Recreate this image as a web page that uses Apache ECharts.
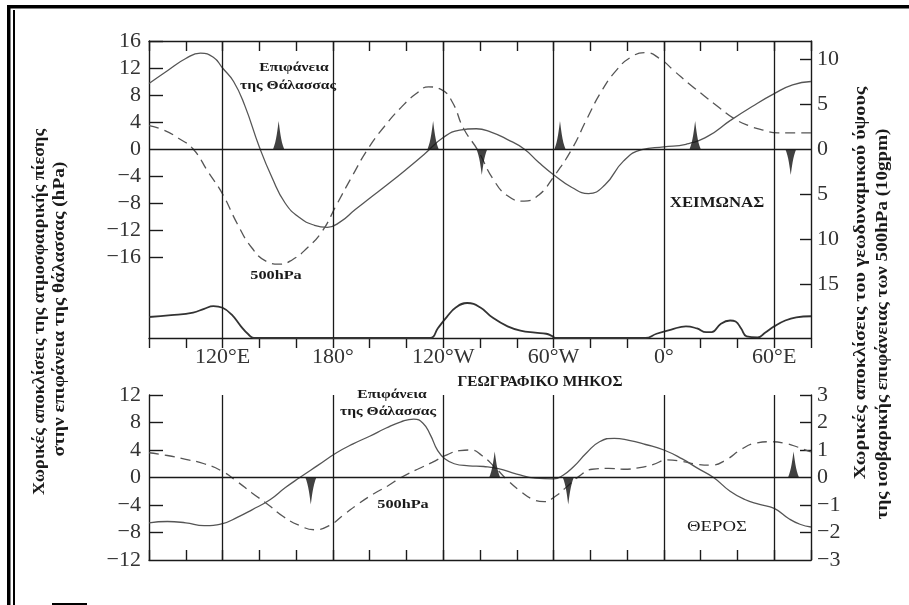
<!DOCTYPE html>
<html>
<head>
<meta charset="utf-8">
<script src="https://cdn.jsdelivr.net/npm/echarts@6/dist/echarts.min.js"></script>
<style>
  html, body { margin: 0; padding: 0; background: #fff; }
  #chart { width: 909px; height: 605px; }
</style>
</head>
<body>
<div id="chart"></div>
<script>
// Longitude runs eastward from 80°E through 180° and 0° back to 80°E (80 … 440).
const lonTickLabels = { 120: '120°E', 180: '180°', 240: '120°W', 300: '60°W', 360: '0°', 420: '60°E' };
const meridians = [120, 180, 240, 300, 360, 420];

// Winter: sea-level pressure departure (hPa)
const surfWinter = [
  [80, 9.7], [90, 11.6], [100, 13.4], [108, 14.2], [115, 13.6], [120, 12.0], [126, 10.0], [132, 6.5],
  [140, 0.3], [147, -4.3], [154, -8.0], [162, -10.2], [170, -11.3], [177, -11.6], [184, -10.8],
  [192, -9.0], [200, -7.3], [210, -5.2], [220, -3.0], [230, -0.7], [240, 1.7], [249, 2.8], [258, 3.0],
  [266, 2.5], [275, 1.4], [284, 0], [292, -2.0], [300, -3.8], [310, -5.7], [319, -6.6], [328, -5.3],
  [338, -1.8], [348, -0.1], [360, 0.3], [372, 0.7], [384, 1.9], [396, 4.2], [408, 6.3], [420, 8.2],
  [430, 9.5], [440, 10.0]
];
// Winter: 500 hPa geopotential height departure (10 gpm)
const geoWinter = [
  [80, 2.6], [88, 2.1], [96, 1.2], [104, 0], [112, -2.5], [120, -5.0], [128, -8.3], [136, -11.0],
  [144, -12.5], [151, -12.8], [158, -12.3], [166, -11.0], [174, -9.2], [182, -6.2], [190, -3.2],
  [199, 0], [208, 2.5], [217, 4.6], [225, 6.1], [232, 6.9], [239, 6.6], [245, 5.2], [251, 2.3],
  [259, -0.2], [267, -3.3], [275, -5.2], [284, -5.8], [292, -5.1], [300, -3.1], [310, 0], [318, 3.3],
  [326, 6.4], [334, 8.7], [342, 10.2], [350, 10.7], [358, 10.0], [366, 8.6], [374, 7.2], [382, 5.9],
  [390, 4.6], [398, 3.4], [406, 2.6], [414, 2.1], [422, 1.8], [430, 1.8], [440, 1.8]
];
// Terrain profile along the latitude circle (km)
const terrain = [
  [80, 1.98], [92, 2.15], [104, 2.4], [110, 2.75], [115, 3.0], [120, 2.85], [125, 2.2], [130, 1.1],
  [134, 0.35], [137, 0], [233, 0], [237, 0.9], [242, 2.0], [247, 2.9], [253, 3.3], [260, 2.9],
  [267, 1.9], [275, 1.1], [282, 0.7], [290, 0.5], [296, 0.4], [299, 0.2], [301, 0],
  [350, 0], [356, 0.4], [364, 0.8], [372, 1.1], [378, 0.9], [383, 0.55], [386, 0.55], [391, 1.35],
  [396, 1.65], [399, 1.55], [402, 0.9], [405, 0.15], [411, 0.05], [415, 0.5], [420, 1.1], [426, 1.65],
  [432, 1.95], [440, 2.05]
];
// Summer: sea-level pressure departure (hPa)
const surfSummer = [
  [80, -6.6], [90, -6.4], [100, -6.6], [110, -7.0], [120, -6.7], [128, -5.8], [136, -4.7], [146, -3.2],
  [154, -1.5], [162, 0], [172, 1.8], [182, 3.6], [191, 4.9], [200, 6.0], [209, 7.2], [217, 8.1],
  [224, 8.5], [229, 7.9], [233, 6.2], [237, 3.9], [241, 2.7], [246, 2.0], [254, 1.7], [262, 1.6],
  [270, 1.3], [280, 0.5], [290, -0.1], [300, -0.2], [305, 0.3], [311, 1.6], [318, 3.6], [325, 5.2],
  [333, 5.7], [341, 5.4], [350, 4.8], [360, 4.0], [370, 2.7], [378, 1.4], [387, 0], [396, -2.0],
  [404, -3.2], [412, -3.9], [420, -4.5], [428, -6.0], [434, -6.8], [440, -7.2]
];
// Summer: 500 hPa geopotential height departure (10 gpm)
const geoSummer = [
  [80, 0.9], [90, 0.8], [100, 0.66], [110, 0.5], [120, 0.22], [128, -0.15], [136, -0.56], [145, -1.0],
  [153, -1.42], [162, -1.75], [170, -1.9], [178, -1.75], [186, -1.35], [194, -0.95], [202, -0.6],
  [210, -0.3], [217, 0], [226, 0.3], [234, 0.55], [242, 0.82], [249, 0.98], [255, 1.0], [261, 0.8],
  [268, 0.38], [275, -0.1], [282, -0.5], [289, -0.8], [295, -0.88], [301, -0.68], [307, -0.35],
  [314, 0.05], [321, 0.3], [330, 0.33], [338, 0.3], [346, 0.35], [354, 0.47], [362, 0.64], [370, 0.58],
  [378, 0.48], [386, 0.45], [394, 0.65], [402, 1.02], [410, 1.25], [418, 1.3], [426, 1.24], [433, 1.1],
  [440, 0.93]
];
// Positions of ridge (up) and trough (down) axes
const winterUp = [150.5, 234.5, 303.5, 377];
const winterDown = [261, 429];
const summerUp = [268, 430.5];
const summerDown = [168, 308];

const SERIF = '"Liberation Serif", "DejaVu Serif", serif';
const INK = '#1a1a1a';
const CURVE = '#555';
const minus = v => (v < 0 ? '\u2212' + Math.abs(v) : String(v));
const spike = 'path://M0,28 C3,20 4,8 5,0 C6,8 7,20 10,28 Z';

const chart = echarts.init(document.getElementById('chart'), null, { renderer: 'canvas' });

function lonAxis(grid, position, opts) {
  return Object.assign({
    type: 'value', gridIndex: grid, position: position, min: 80, max: 440, interval: 20,
    axisLine: { show: true, onZero: false, lineStyle: { color: INK, width: 1.4 } },
    axisTick: { show: true, inside: true, length: 10, lineStyle: { color: INK, width: 1.4 } },
    axisLabel: { show: false },
    splitLine: { show: false }
  }, opts || {});
}

function guideLines() {
  return {
    silent: true, symbol: ['none', 'none'], animation: false,
    label: { show: false },
    lineStyle: { color: INK, width: 1.3, type: 'solid' },
    data: [{ yAxis: 0 }].concat(meridians.map(m => ({ xAxis: m })))
  };
}

function spikes(name, x, yIdx, lons, up, h) {
  return {
    name: name, type: 'scatter', xAxisIndex: x, yAxisIndex: yIdx,
    data: lons.map(l => [l, 0]),
    symbol: spike, symbolKeepAspect: false, symbolSize: [11, h],
    symbolRotate: up ? 0 : 180,
    symbolOffset: [0, up ? -h / 2 : h / 2],
    itemStyle: { color: '#111' }, silent: true, z: 4
  };
}

function label(txt, x, y, size, bold, extra) {
  return Object.assign({
    type: 'text', x: x, y: y, silent: true,
    style: {
      text: txt, font: (bold ? 'bold ' : '') + size + 'px ' + SERIF, fill: INK,
      textAlign: 'center', textVerticalAlign: 'middle'
    }
  }, extra || {});
}

function curve(name, x, y, data, dashed) {
  return {
    name: name, type: 'line', xAxisIndex: x, yAxisIndex: y, data: data,
    smooth: 0.5, showSymbol: false, z: 3,
    lineStyle: { color: CURVE, width: 1.3, type: dashed ? [10, 6] : 'solid' }
  };
}

const option = {
  animation: false,
  backgroundColor: '#fff',
  grid: [
    { left: 149, top: 41, width: 662, height: 297 },
    { left: 149, top: 395, width: 662, height: 165 }
  ],
  xAxis: [
    lonAxis(0, 'bottom', {
      axisTick: { show: true, inside: false, length: 10, lineStyle: { color: INK, width: 1.4 } },
      axisLabel: {
        show: true, margin: 8, fontSize: 22, fontFamily: SERIF, color: '#333',
        formatter: v => lonTickLabels[v] || ''
      }
    }),
    lonAxis(0, 'top'),
    lonAxis(1, 'bottom')
  ],
  yAxis: [
    {
      type: 'value', gridIndex: 0, position: 'left', min: -28, max: 16, interval: 4,
      axisLine: { show: true, lineStyle: { color: INK, width: 1.4 } },
      axisTick: { show: true, inside: true, length: 14, customValues: [16, 12, 8, 4, -4, -8, -12, -16], lineStyle: { color: INK, width: 1.4 } },
      axisLabel: { margin: 8, fontSize: 22, fontFamily: SERIF, color: '#333', customValues: [16, 12, 8, 4, 0, -4, -8, -12, -16], formatter: minus },
      splitLine: { show: false }
    },
    {
      type: 'value', gridIndex: 0, position: 'right', min: -21, max: 12,
      axisLine: { show: true, lineStyle: { color: INK, width: 1.4 } },
      axisTick: { show: true, inside: true, length: 11, customValues: [10, 5, -5, -10, -15], lineStyle: { color: INK, width: 1.4 } },
      axisLabel: { margin: 6, fontSize: 22, fontFamily: SERIF, color: '#333', customValues: [10, 5, 0, -5, -10, -15], formatter: v => String(Math.abs(v)) },
      splitLine: { show: false }
    },
    { type: 'value', gridIndex: 0, min: 0, max: 28, show: false },
    {
      type: 'value', gridIndex: 1, position: 'left', min: -12, max: 12, interval: 4,
      axisLine: { show: true, lineStyle: { color: INK, width: 1.4 } },
      axisTick: { show: true, inside: true, length: 14, customValues: [12, 8, 4, -4, -8], lineStyle: { color: INK, width: 1.4 } },
      axisLabel: { margin: 8, fontSize: 22, fontFamily: SERIF, color: '#333', formatter: minus },
      splitLine: { show: false }
    },
    {
      type: 'value', gridIndex: 1, position: 'right', min: -3, max: 3, interval: 1,
      axisLine: { show: true, lineStyle: { color: INK, width: 1.4 } },
      axisTick: { show: true, inside: true, length: 11, customValues: [3, 2, 1, -1, -2], lineStyle: { color: INK, width: 1.4 } },
      axisLabel: { margin: 6, fontSize: 22, fontFamily: SERIF, color: '#333', formatter: minus },
      splitLine: { show: false }
    }
  ],
  series: [
    Object.assign(curve('surfWinter', 0, 0, surfWinter, false), { markLine: guideLines() }),
    curve('geoWinter', 0, 1, geoWinter, true),
    {
      name: 'terrain', type: 'line', xAxisIndex: 0, yAxisIndex: 2, data: terrain,
      smooth: 0.45, showSymbol: false, lineStyle: { color: '#333', width: 1.8 }, z: 3
    },
    spikes('winterUp', 0, 0, winterUp, true, 28),
    spikes('winterDown', 0, 0, winterDown, false, 26),
    Object.assign(curve('surfSummer', 2, 3, surfSummer, false), { markLine: guideLines() }),
    curve('geoSummer', 2, 4, geoSummer, true),
    spikes('summerUp', 2, 3, summerUp, true, 26),
    spikes('summerDown', 2, 3, summerDown, false, 27)
  ],
  graphic: [
    // page frame
    { type: 'rect', shape: { x: 7, y: 5, width: 902, height: 3.5 }, style: { fill: '#000' }, silent: true },
    { type: 'rect', shape: { x: 7, y: 5, width: 3.5, height: 600 }, style: { fill: '#000' }, silent: true },
    { type: 'rect', shape: { x: 13, y: 10, width: 2, height: 595 }, style: { fill: '#000' }, silent: true },
    { type: 'rect', shape: { x: 52, y: 603, width: 35, height: 2 }, style: { fill: '#000' }, silent: true },
    // annotations
    label('Επιφάνεια', 294, 68, 13, true, { scaleX: 1.2 }),
    label('της Θάλασσας', 288, 86, 13, true, { scaleX: 1.2 }),
    label('500hPa', 276, 276, 13, true, { scaleX: 1.25 }),
    label('ΧΕΙΜΩΝΑΣ', 717, 203, 14, true, { scaleX: 1.2 }),
    label('ΓΕΩΓΡΑΦΙΚΟ ΜΗΚΟΣ', 540, 382, 14, true, { scaleX: 1.1 }),
    label('Επιφάνεια', 392, 395, 13, true, { scaleX: 1.2 }),
    label('της Θάλασσας', 388, 412, 13, true, { scaleX: 1.2 }),
    label('500hPa', 403, 505, 13, true, { scaleX: 1.25 }),
    label('ΘΕΡΟΣ', 717, 527, 15, false, { scaleX: 1.25 }),
    // axis titles (scaleX stretches along the text before it is turned upright)
    label('Χωρικές αποκλίσεις της ατμοσφαιρικής πίεσης', 40, 312, 17, true, { rotation: Math.PI / 2, scaleX: 1.07 }),
    label('στην επιφάνεια της θάλασσας (hPa)', 60, 309, 17, true, { rotation: Math.PI / 2, scaleX: 1.14 }),
    label('Χωρικές αποκλίσεις του γεωδυναμικού ύψους', 861, 283, 17, true, { rotation: Math.PI / 2, scaleX: 1.18 }),
    label('της ισοβαρικής επιφάνειας των 500hPa (10gpm)', 883, 324, 17, true, { rotation: Math.PI / 2, scaleX: 1.12 })
  ]
};

chart.setOption(option);
</script>
</body>
</html>
